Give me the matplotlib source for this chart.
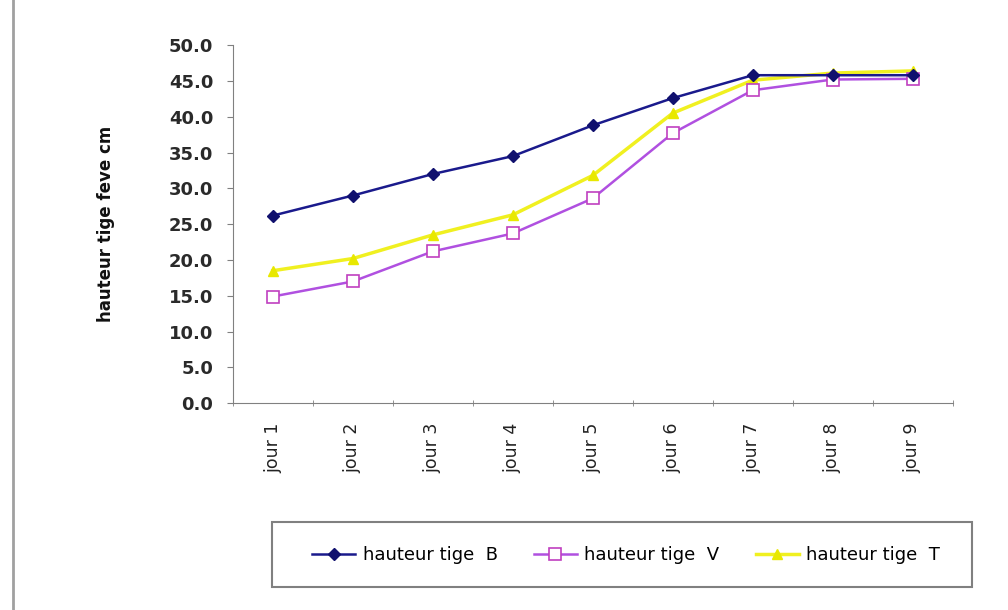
import matplotlib
matplotlib.use("Agg")
import matplotlib.pyplot as plt
from matplotlib.lines import Line2D
from matplotlib.patches import Rectangle

plt.rcParams['font.family'] = ['DejaVu Sans']

jours = ["jour 1", "jour 2", "jour 3", "jour 4", "jour 5", "jour 6", "jour 7", "jour 8", "jour 9"]
hauteur_B = [26.2, 29.0, 32.0, 34.5, 38.8, 42.6, 45.8, 45.8, 45.8]
hauteur_V = [14.9, 17.0, 21.2, 23.7, 28.6, 37.7, 43.7, 45.2, 45.3]
hauteur_T = [18.5, 20.2, 23.5, 26.3, 31.8, 40.5, 45.1, 46.1, 46.4]

fig = plt.figure(figsize=(10.08, 6.10), dpi=100)
ax = fig.add_axes([0.231, 0.339, 0.714, 0.587])

x = list(range(len(jours)))
ax.plot(x, hauteur_B, color="#1a1a8c", lw=1.8, marker="D", ms=6,
        mfc="#10106e", mec="#10106e", label="hauteur tige  B", zorder=3)
ax.plot(x, hauteur_V, color="#b050e0", lw=1.8, marker="s", ms=9,
        mfc="white", mec="#c040c0", mew=1.2, label="hauteur tige  V", zorder=2)
ax.plot(x, hauteur_T, color="#f0f020", lw=2.5, marker="^", ms=7,
        mfc="#e8e800", mec="#e8e800", label="hauteur tige  T", zorder=1)

ax.set_xlim(-0.5, len(jours) - 0.5)
ax.set_ylim(0, 50)
ax.set_yticks([i * 5 for i in range(11)])
ax.set_yticklabels(["%.1f" % (i * 5) for i in range(11)], fontsize=13,
                   fontweight="bold", color="#2a2a2a")
ax.set_xticks(x)
ax.set_xticklabels(jours, rotation=90, fontsize=12.5, color="#222222")
ax.tick_params(axis="x", length=0, pad=14)
ax.set_xticks([i - 0.5 for i in range(len(jours) + 1)], minor=True)
ax.tick_params(axis="x", which="minor", length=5, direction="inout", color="#808080")
ax.tick_params(axis="y", length=4, pad=10, color="#808080")

for s in ["top", "right"]:
    ax.spines[s].set_visible(False)
for s in ["left", "bottom"]:
    ax.spines[s].set_color("#808080")

ax.set_ylabel("hauteur tige feve cm", fontsize=12, fontweight="bold", color="#111111")
ax.yaxis.set_label_coords(-0.164, 0.5)

# legend box
fig.add_artist(Rectangle((272 / 1008, 23 / 610), 700 / 1008, 65 / 610,
                         transform=fig.transFigure, fill=False,
                         edgecolor="#808080", lw=1.5))
handles, labels = ax.get_legend_handles_labels()
fig.legend(handles, labels, loc="center", bbox_to_anchor=(626 / 1008, 55 / 610),
           ncol=3, fontsize=13, frameon=False, handlelength=2.4,
           handletextpad=0.4, columnspacing=2.0)

fig.add_artist(Line2D([0.013, 0.013], [0.0, 1.0], color="#a0a0a0", lw=2))

fig.savefig("out.png", dpi=100)
